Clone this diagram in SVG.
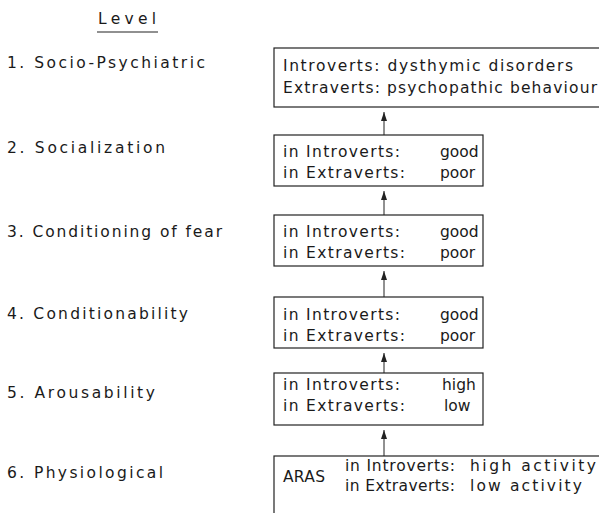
<svg xmlns="http://www.w3.org/2000/svg" width="599" height="513" viewBox="0 0 599 513">
<defs>
<style>
text{font-family:"DejaVu Sans","Liberation Sans",sans-serif;font-size:15.5px;fill:#1a1a1a}
.box{fill:none;stroke:#222;stroke-width:1.2}
.conn line{stroke:#222;stroke-width:1}
</style>
<marker id="ah" viewBox="0 0 9 6" refX="9" refY="3" markerWidth="9" markerHeight="6" orient="auto" markerUnits="userSpaceOnUse">
<path d="M0,0 L9,3 L0,6 Z" fill="#222"/>
</marker>
</defs>
<rect width="599" height="513" fill="#fff"/>
<g id="title">
<text x="98" y="24" textLength="58" lengthAdjust="spacing">Level</text>
<line x1="97" y1="32" x2="158" y2="32" stroke="#222" stroke-width="1.2"/>
</g>
<g id="levels">
<text x="7" y="68" textLength="198" lengthAdjust="spacing">1.  Socio-Psychiatric</text>
<text x="7" y="153" textLength="158" lengthAdjust="spacing">2.  Socialization</text>
<text x="7" y="237" textLength="215" lengthAdjust="spacing">3.  Conditioning of fear</text>
<text x="7" y="319" textLength="181" lengthAdjust="spacing">4.  Conditionability</text>
<text x="7" y="398" textLength="148" lengthAdjust="spacing">5.  Arousability</text>
<text x="7" y="478" textLength="156" lengthAdjust="spacing">6.  Physiological</text>
</g>
<g id="node1">
<rect class="box" x="274" y="48" width="340" height="59"/>
<text x="283" y="71" textLength="290" lengthAdjust="spacing">Introverts:  dysthymic disorders</text>
<text x="283" y="93" textLength="314" lengthAdjust="spacing">Extraverts:  psychopathic behaviour</text>
</g>
<g id="node2">
<rect class="box" x="274" y="135" width="209" height="51"/>
<text x="283" y="157" textLength="117" lengthAdjust="spacing">in Introverts:</text>
<text x="440" y="157">good</text>
<text x="283" y="178" textLength="122" lengthAdjust="spacing">in Extraverts:</text>
<text x="440" y="178">poor</text>
</g>
<g id="node3">
<rect class="box" x="274" y="215" width="209" height="51"/>
<text x="283" y="237" textLength="117" lengthAdjust="spacing">in Introverts:</text>
<text x="440" y="237">good</text>
<text x="283" y="258" textLength="122" lengthAdjust="spacing">in Extraverts:</text>
<text x="440" y="258">poor</text>
</g>
<g id="node4">
<rect class="box" x="274" y="297" width="209" height="51"/>
<text x="283" y="320" textLength="117" lengthAdjust="spacing">in Introverts:</text>
<text x="440" y="320">good</text>
<text x="283" y="341" textLength="122" lengthAdjust="spacing">in Extraverts:</text>
<text x="440" y="341">poor</text>
</g>
<g id="node5">
<rect class="box" x="274" y="373" width="209" height="52"/>
<text x="283" y="390" textLength="117" lengthAdjust="spacing">in Introverts:</text>
<text x="442" y="390">high</text>
<text x="283" y="411" textLength="122" lengthAdjust="spacing">in Extraverts:</text>
<text x="444" y="411">low</text>
</g>
<g id="node6">
<rect class="box" x="274" y="456" width="340" height="70"/>
<text x="283" y="482" textLength="42" lengthAdjust="spacing">ARAS</text>
<text x="345" y="471" textLength="110" lengthAdjust="spacing">in Introverts:</text>
<text x="470" y="471" textLength="126" lengthAdjust="spacing">high activity</text>
<text x="345" y="491" textLength="110" lengthAdjust="spacing">in Extraverts:</text>
<text x="470" y="491" textLength="112" lengthAdjust="spacing">low activity</text>
</g>
<g id="connectors" class="conn">
<line x1="384" y1="135" x2="384" y2="112" marker-end="url(#ah)"/>
<line x1="384" y1="215" x2="384" y2="191" marker-end="url(#ah)"/>
<line x1="384" y1="297" x2="384" y2="271" marker-end="url(#ah)"/>
<line x1="384" y1="373" x2="384" y2="353" marker-end="url(#ah)"/>
<line x1="384" y1="456" x2="384" y2="430" marker-end="url(#ah)"/>
</g>
</svg>
